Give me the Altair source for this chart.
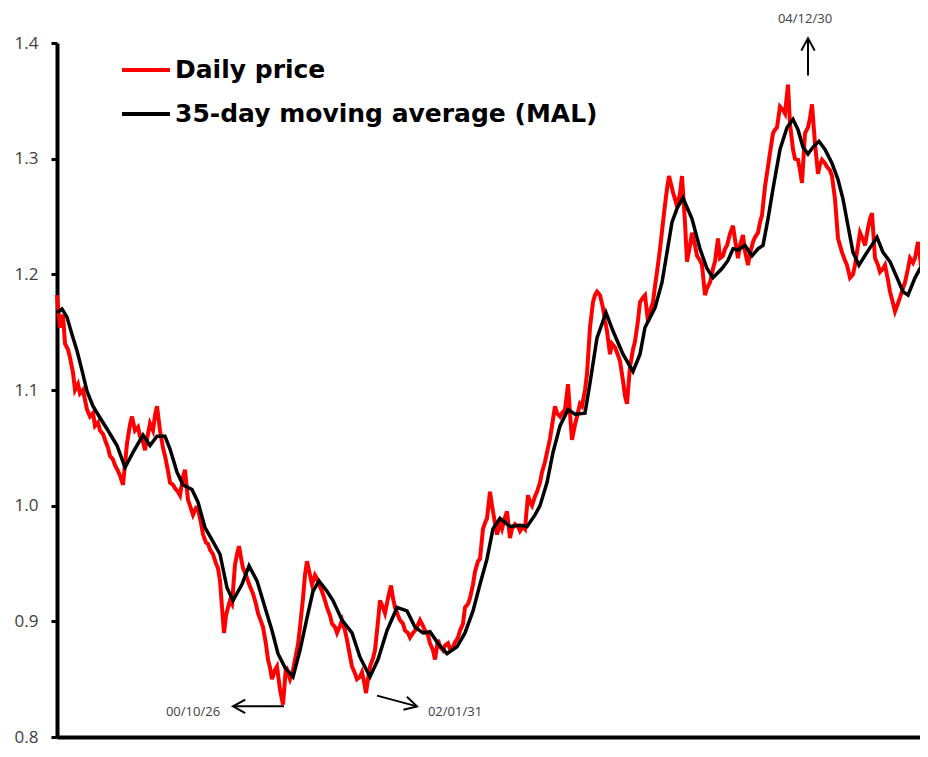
import altair as alt
import pandas as pd

# ---- data (x = trading-day index, y = price) ----
price_day = [
    0, 6, 12, 16, 22, 26, 32, 36, 42, 46,
    52, 60, 66, 72, 76, 82, 86, 92, 96, 102,
    106, 112, 116, 122, 126, 132, 140, 146, 150, 156,
    162, 166, 172, 176, 182, 186, 192, 196, 200, 206,
    212, 216, 222, 226, 232, 236, 242, 246, 252, 256,
    262, 266, 272, 278, 282, 288, 292, 298, 302, 306,
    312, 318, 322, 326, 330, 334, 338, 342, 346, 350,
    356, 360, 364, 368, 372, 378, 382, 386, 392, 398,
    402, 408, 412, 418, 422, 426, 430, 436, 440, 446,
    452, 458, 462, 466, 472, 476, 482, 486, 492, 496,
    500, 506, 510, 516, 520, 526, 530, 536, 540, 546,
    550, 556, 560, 566, 570, 576, 580, 586, 590, 596,
    600, 606, 610, 614, 618, 622, 626, 632, 636, 642,
    646, 652, 656, 662, 668, 672, 676, 682, 686, 692,
    696, 702, 706, 712, 716, 722, 726, 732, 736, 742,
    746, 752, 756, 762, 766, 772, 776, 782, 786, 792,
    796, 802, 806, 812, 816, 822, 826, 832, 836, 842,
    846, 852, 856, 860, 866, 870, 874, 880, 886, 890,
    896, 900, 906, 910, 916, 922, 926, 932, 936, 942,
    946, 950, 956, 960, 966, 970, 976, 980, 986, 990,
    996, 1000, 1006, 1010, 1016, 1022, 1026, 1030, 1036, 1040,
    1046, 1050, 1056, 1060, 1066, 1072, 1076, 1080, 1086, 1092,
    1096, 1100, 1106, 1110, 1116, 1122, 1126, 1132, 1136, 1140,
    1146, 1152, 1156, 1162, 1166, 1172, 1176, 1182, 1186, 1192,
    1196, 1200, 1206, 1212, 1216, 1220, 1224, 1228, 1232, 1236,
    1240, 1246, 1250, 1256, 1260, 1266, 1270, 1276, 1280, 1286,
    1290, 1296, 1300, 1306, 1312, 1316, 1322, 1326, 1332, 1336,
    1340, 1346, 1352, 1356, 1362, 1366, 1372, 1376, 1382, 1386,
    1392, 1396, 1402, 1406, 1410, 1416, 1422, 1426, 1432, 1436,
    1440, 1446, 1452, 1456, 1462, 1466, 1472, 1476, 1482, 1486,
    1490, 1496, 1502, 1506, 1510, 1516, 1522, 1526, 1530, 1536,
    1540, 1546, 1550, 1556, 1562, 1566, 1570, 1576, 1580, 1586,
    1592, 1596, 1602, 1606, 1612, 1616, 1622, 1626, 1630, 1636,
    1642, 1646, 1652, 1656, 1662, 1666, 1672, 1676, 1682, 1686,
    1692, 1696, 1702, 1706, 1712, 1716, 1722, 1726, 1730, 1736,
    1740,
]
price_val = [
    1.182, 1.154, 1.165, 1.140, 1.135, 1.128, 1.115, 1.100, 1.105, 1.097,
    1.100, 1.083, 1.077, 1.080, 1.069, 1.072, 1.065, 1.062, 1.057, 1.050,
    1.043, 1.040, 1.035, 1.030, 1.026, 1.018, 1.054, 1.070, 1.077, 1.065,
    1.068, 1.060, 1.055, 1.048, 1.062, 1.071, 1.065, 1.078, 1.086, 1.065,
    1.050, 1.043, 1.030, 1.020, 1.018, 1.015, 1.012, 1.009, 1.025, 1.031,
    1.005, 1.000, 0.992, 0.998, 0.997, 0.985, 0.975, 0.968, 0.967, 0.962,
    0.958, 0.950, 0.946, 0.935, 0.912, 0.890, 0.905, 0.912, 0.918, 0.915,
    0.949, 0.958, 0.965, 0.955, 0.946, 0.940, 0.935, 0.930, 0.924, 0.915,
    0.907, 0.900, 0.895, 0.880, 0.867, 0.860, 0.850, 0.858, 0.861, 0.841,
    0.828, 0.861, 0.855, 0.850, 0.858, 0.867, 0.880, 0.895, 0.920, 0.940,
    0.952, 0.940, 0.932, 0.940, 0.937, 0.930, 0.926, 0.918, 0.912, 0.905,
    0.898, 0.895, 0.890, 0.896, 0.901, 0.892, 0.884, 0.870, 0.861, 0.855,
    0.850, 0.852, 0.856, 0.848, 0.838, 0.850, 0.861, 0.868, 0.875, 0.900,
    0.918, 0.912, 0.907, 0.920, 0.931, 0.920, 0.912, 0.905, 0.901, 0.898,
    0.892, 0.890, 0.886, 0.890, 0.892, 0.897, 0.901, 0.896, 0.892, 0.888,
    0.881, 0.875, 0.867, 0.884, 0.878, 0.875, 0.879, 0.881, 0.876, 0.878,
    0.882, 0.886, 0.892, 0.898, 0.912, 0.915, 0.920, 0.932, 0.943, 0.952,
    0.954, 0.980, 0.985, 0.989, 1.012, 1.000, 0.990, 0.975, 0.985, 0.980,
    0.990, 0.995, 0.972, 0.980, 0.984, 0.982, 0.978, 0.982, 0.980, 1.009,
    1.003, 1.000, 1.008, 1.012, 1.020, 1.029, 1.038, 1.046, 1.058, 1.069,
    1.086, 1.080, 1.077, 1.080, 1.083, 1.105, 1.080, 1.057, 1.070, 1.077,
    1.088, 1.086, 1.100, 1.114, 1.154, 1.176, 1.182, 1.185, 1.182, 1.171,
    1.160, 1.151, 1.131, 1.140, 1.137, 1.130, 1.125, 1.108, 1.095, 1.088,
    1.120, 1.135, 1.142, 1.160, 1.176, 1.180, 1.182, 1.159, 1.168, 1.176,
    1.190, 1.202, 1.222, 1.245, 1.260, 1.274, 1.285, 1.278, 1.271, 1.265,
    1.259, 1.270, 1.285, 1.245, 1.211, 1.225, 1.236, 1.225, 1.216, 1.212,
    1.208, 1.182, 1.188, 1.193, 1.205, 1.211, 1.231, 1.214, 1.216, 1.222,
    1.225, 1.235, 1.242, 1.230, 1.214, 1.225, 1.234, 1.220, 1.208, 1.218,
    1.228, 1.232, 1.236, 1.245, 1.251, 1.276, 1.293, 1.305, 1.322, 1.325,
    1.327, 1.345, 1.342, 1.339, 1.364, 1.330, 1.308, 1.300, 1.299, 1.290,
    1.279, 1.322, 1.327, 1.335, 1.347, 1.313, 1.287, 1.295, 1.299, 1.296,
    1.293, 1.290, 1.285, 1.265, 1.231, 1.225, 1.219, 1.212, 1.208, 1.197,
    1.200, 1.208, 1.225, 1.236, 1.230, 1.225, 1.240, 1.248, 1.253, 1.214,
    1.208, 1.202, 1.205, 1.208, 1.195, 1.185, 1.175, 1.168, 1.175, 1.180,
    1.188, 1.193, 1.205, 1.214, 1.210, 1.214, 1.228, 1.215, 1.199, 1.190,
    1.185,
]
ma_day = [
    0, 10, 20, 30, 40, 50, 60, 72, 86, 102,
    120, 136, 152, 172, 186, 200, 216, 226, 240, 252,
    270, 282, 296, 312, 326, 340, 352, 370, 384, 400,
    416, 430, 442, 456, 472, 486, 500, 512, 524, 540,
    552, 570, 590, 606, 626, 642, 660, 680, 700, 716,
    732, 746, 762, 780, 800, 816, 832, 846, 860, 872,
    886, 906, 926, 940, 956, 966, 980, 992, 1006, 1022,
    1036, 1056, 1066, 1080, 1098, 1112, 1132, 1152, 1166, 1176,
    1196, 1210, 1220, 1230, 1240, 1252, 1270, 1286, 1300, 1312,
    1330, 1342, 1352, 1362, 1376, 1390, 1402, 1412, 1422, 1432,
    1446, 1460, 1472, 1482, 1492, 1502, 1512, 1524, 1536, 1550,
    1562, 1572, 1582, 1592, 1604, 1620, 1640, 1652, 1666, 1680,
    1692, 1702, 1716, 1726, 1740,
]
ma_val = [
    1.167, 1.170, 1.163, 1.148, 1.134, 1.117, 1.099, 1.086, 1.076, 1.065,
    1.052, 1.033, 1.046, 1.061, 1.052, 1.060, 1.060, 1.049, 1.029, 1.018,
    1.014, 1.003, 0.981, 0.969, 0.958, 0.929, 0.918, 0.932, 0.948, 0.935,
    0.912, 0.892, 0.872, 0.860, 0.852, 0.875, 0.903, 0.926, 0.935, 0.926,
    0.918, 0.901, 0.890, 0.869, 0.852, 0.867, 0.892, 0.912, 0.909, 0.895,
    0.890, 0.891, 0.881, 0.872, 0.878, 0.890, 0.909, 0.932, 0.954, 0.980,
    0.989, 0.982, 0.983, 0.982, 0.992, 1.000, 1.020, 1.046, 1.069, 1.083,
    1.079, 1.080, 1.106, 1.145, 1.167, 1.151, 1.131, 1.116, 1.131, 1.154,
    1.171, 1.193, 1.219, 1.245, 1.257, 1.266, 1.248, 1.222, 1.205, 1.197,
    1.205, 1.212, 1.222, 1.221, 1.225, 1.216, 1.222, 1.225, 1.248, 1.274,
    1.308, 1.327, 1.334, 1.325, 1.310, 1.304, 1.310, 1.315, 1.308, 1.296,
    1.282, 1.265, 1.242, 1.219, 1.208, 1.219, 1.232, 1.219, 1.211, 1.197,
    1.185, 1.182, 1.197, 1.205, 1.205,
]
assert len(price_day) == len(price_val)
assert len(ma_day) == len(ma_val)

series_names = ["Daily price", "35-day moving average (MAL)"]
series_colors = ["#ff0000", "#000000"]
y_ticks = [0.8, 0.9, 1.0, 1.1, 1.2, 1.3, 1.4]
# the reference's plot runs past the right edge of the picture: the visible
# part of the axis ends a few days before the last observation
x_domain = [0, 1726]
y_domain = [0.8, 1.4]

# annotations (dates of the extremes) and their arrows
ann_label = ["04/12/30", "00/10/26", "02/01/31"]
ann_day = [1496, 272, 796]
ann_val = [1.4206, 0.8214, 0.8214]
arrow_day0 = [1502, 454, 640]
arrow_val0 = [1.372, 0.8265, 0.8358]
arrow_day1 = [1502, 352, 720]
arrow_val1 = [1.404, 0.8265, 0.8265]
arrow_angle = [0, 270, 105]

price_df = pd.DataFrame({"day": price_day, "value": price_val, "series": series_names[0]})
ma_df = pd.DataFrame({"day": ma_day, "value": ma_val, "series": series_names[1]})
ann_df = pd.DataFrame({"day": ann_day, "value": ann_val, "label": ann_label})
arrow_df = pd.DataFrame({
    "day0": arrow_day0, "val0": arrow_val0,
    "day1": arrow_day1, "val1": arrow_val1, "angle": arrow_angle,
})

FONT = "Open Sans"
xs = alt.Scale(domain=x_domain, nice=False, zero=False)
ys = alt.Scale(domain=y_domain, nice=False, zero=False)

x_axis = alt.Axis(title=None, labels=False, ticks=False, grid=False,
                  domainWidth=4, domainColor="black")
y_axis = alt.Axis(title=None, values=y_ticks, format=".1f", grid=False,
                  labelFontSize=17, labelColor="#404040", labelFont=FONT,
                  labelPadding=13, tickSize=6, tickWidth=3, tickColor="black",
                  domainWidth=4, domainColor="black")

color_scale = alt.Scale(domain=series_names, range=series_colors)
legend = alt.Legend(title=None, orient="none", legendX=63, legendY=1,
                    symbolType="stroke", symbolSize=2304, symbolStrokeWidth=4,
                    labelFontSize=25, labelFont="DejaVu Sans", labelFontWeight="bold",
                    labelColor="black", labelOffset=3, rowPadding=5,
                    padding=0, labelLimit=0)

red = alt.Chart(price_df).mark_line(strokeWidth=4).encode(
    x=alt.X("day:Q", scale=xs, axis=x_axis),
    y=alt.Y("value:Q", scale=ys, axis=y_axis),
    color=alt.Color("series:N", scale=color_scale, legend=legend),
)
black = alt.Chart(ma_df).mark_line(strokeWidth=3.5).encode(
    x=alt.X("day:Q", scale=xs),
    y=alt.Y("value:Q", scale=ys),
    color=alt.Color("series:N", scale=color_scale, legend=legend),
)
texts = alt.Chart(ann_df).mark_text(
    fontSize=13, color="#404040", font=FONT, align="center", baseline="middle"
).encode(
    x=alt.X("day:Q", scale=xs), y=alt.Y("value:Q", scale=ys), text="label:N"
)
shafts = alt.Chart(arrow_df).mark_rule(strokeWidth=2, color="black").encode(
    x=alt.X("day0:Q", scale=xs), y=alt.Y("val0:Q", scale=ys),
    x2="day1:Q", y2="val1:Q",
)
heads = alt.Chart(arrow_df).mark_point(
    shape="M-0.55,1L0,0L0.55,1", filled=False, strokeWidth=2, size=600,
    color="black", opacity=1,
).encode(
    x=alt.X("day1:Q", scale=xs), y=alt.Y("val1:Q", scale=ys),
    angle=alt.Angle("angle:Q", scale=None),
)

chart = alt.layer(red, black, shafts, heads, texts).properties(
    width=863, height=694,
    autosize=alt.AutoSizeParams(type="none"),
    padding={"left": 49, "top": 35, "right": 0, "bottom": 12},
).configure_view(stroke=None)

chart.save("out.html", embed_options={"renderer": "svg", "actions": False})
